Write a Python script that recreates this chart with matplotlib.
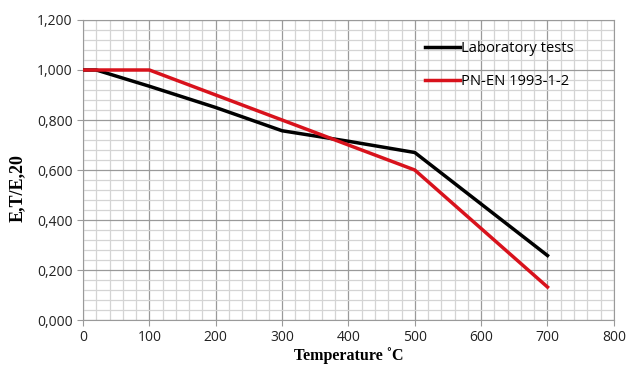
import matplotlib
matplotlib.use("Agg")
import matplotlib.pyplot as plt
from matplotlib.ticker import MultipleLocator, FuncFormatter

lab_temp = [0, 20, 100, 200, 300, 400, 500, 700]
lab_val = [1.0, 1.0, 0.935, 0.85, 0.757, 0.715, 0.67, 0.258]
en_temp = [0, 100, 200, 300, 400, 500, 700]
en_val = [1.0, 1.0, 0.9, 0.8, 0.7, 0.6, 0.132]

fig = plt.figure(figsize=(6.26, 3.70), dpi=100)
ax = fig.add_axes([0.1326, 0.135, 0.848, 0.811])

ax.plot(lab_temp, lab_val, color="black", lw=2.5, label="Laboratory tests", zorder=3)
ax.plot(en_temp, en_val, color="#d8121c", lw=2.5, label="PN-EN 1993-1-2", zorder=3)

ax.set_xlim(0, 800)
ax.set_ylim(0, 1.2)
ax.xaxis.set_major_locator(MultipleLocator(100))
ax.xaxis.set_minor_locator(MultipleLocator(20))
ax.yaxis.set_major_locator(MultipleLocator(0.2))
ax.yaxis.set_minor_locator(MultipleLocator(0.04))
ax.yaxis.set_major_formatter(FuncFormatter(lambda v, p: f"{v:.3f}".replace(".", ",")))

ax.grid(which="major", color="#9a9a9a", lw=0.9)
ax.grid(which="minor", color="#d4d4d4", lw=0.9)
ax.set_axisbelow(True)
for s in ax.spines.values():
    s.set_color("#9a9a9a")
ax.tick_params(which="major", length=4, color="#9a9a9a", labelsize=10, labelcolor="#222222")
ax.tick_params(which="minor", length=0)
for lab in ax.get_xticklabels() + ax.get_yticklabels():
    lab.set_family("Open Sans")

ax.set_xlabel("Temperature ˚C", family="Liberation Serif", fontweight="bold", fontsize=11.5, labelpad=1)
ax.set_ylabel("E,T/E,20", family="Liberation Serif", fontweight="bold", fontsize=13, labelpad=8)
ax.yaxis.label.set_y(0.44)

leg = ax.legend(loc="upper right", bbox_to_anchor=(0.95, 0.975), frameon=False,
                prop={"family": "Open Sans", "size": 10.6}, handlelength=2.4,
                handletextpad=0.1, labelspacing=1.25)

fig.savefig("out.png", dpi=100)
